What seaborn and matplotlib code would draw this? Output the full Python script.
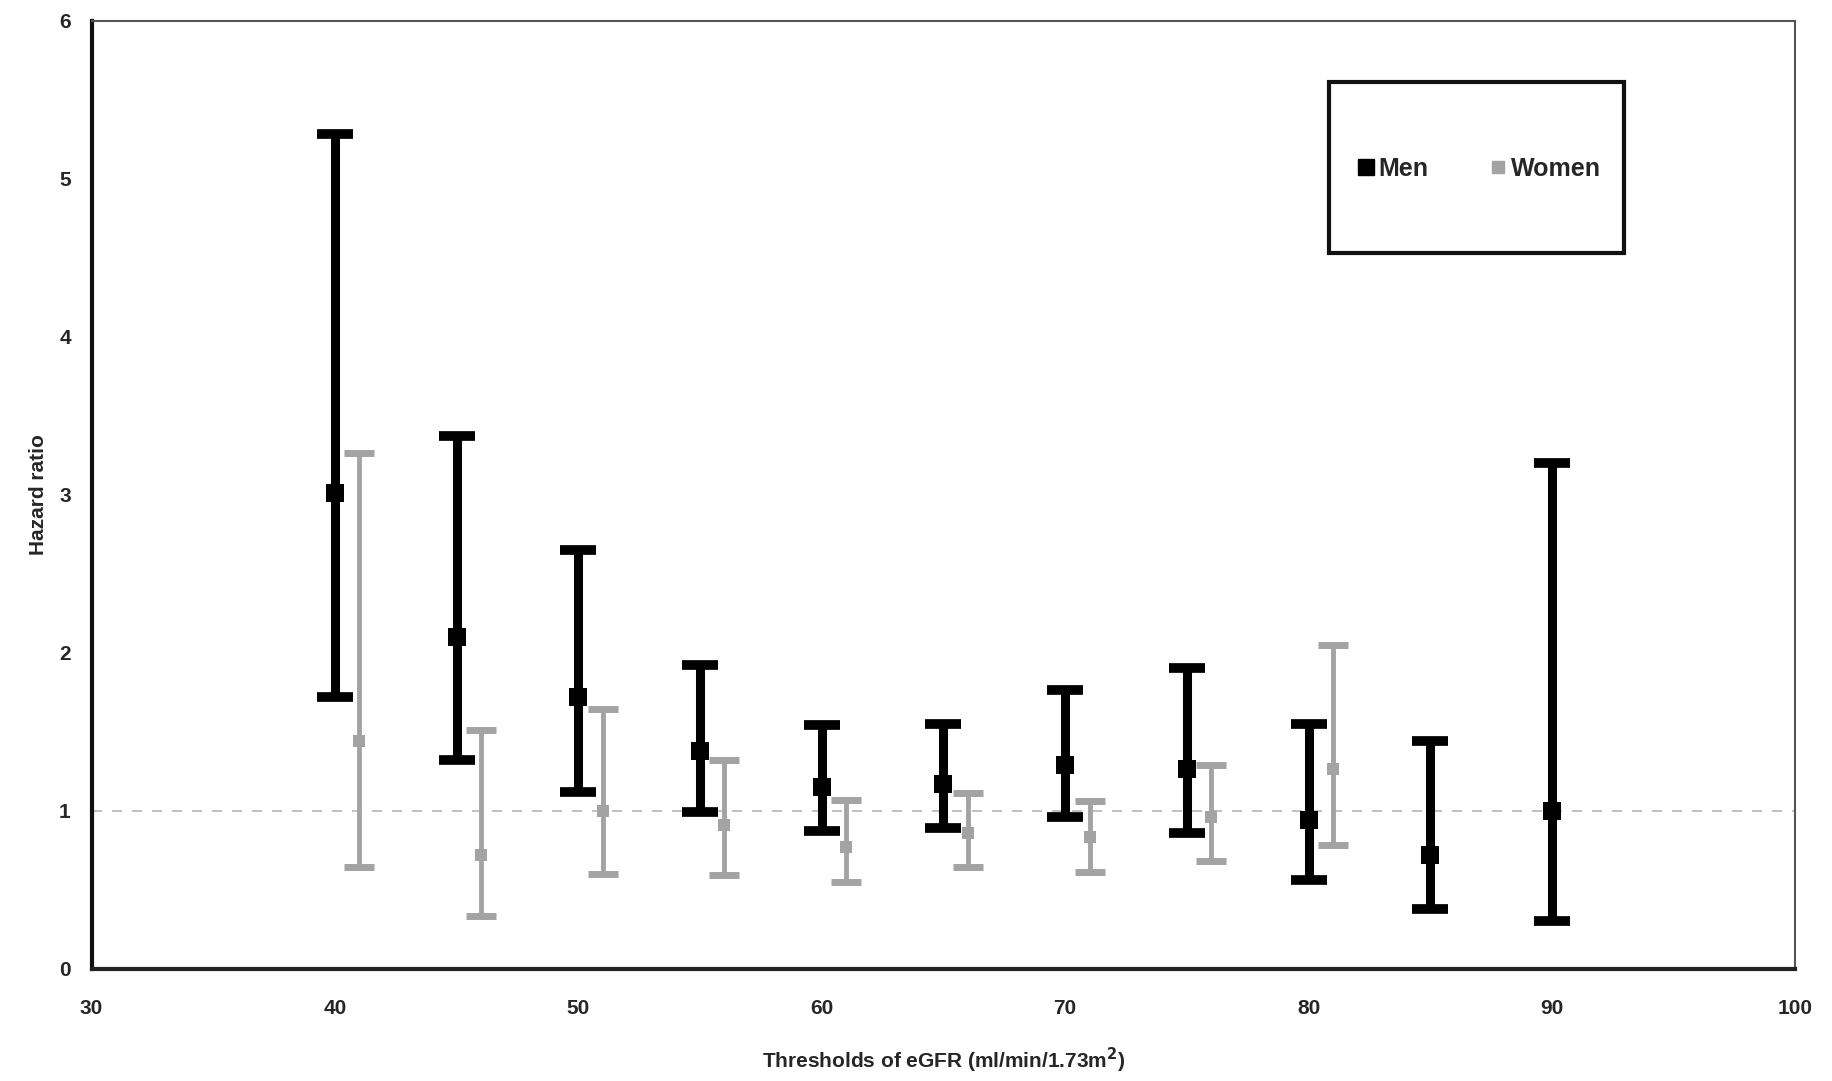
import matplotlib
matplotlib.use("Agg")
import matplotlib.pyplot as plt
import seaborn as sns
import pandas as pd
from matplotlib.lines import Line2D
from matplotlib.patches import Rectangle

# eGFR thresholds (ml/min/1.73m2)
men_x = [40, 45, 50, 55, 60, 65, 70, 75, 80, 85, 90]
men_hr = [3.01, 2.10, 1.72, 1.38, 1.15, 1.17, 1.29, 1.26, 0.94, 0.72, 1.00]
men_lo = [1.72, 1.32, 1.12, 0.99, 0.87, 0.89, 0.96, 0.86, 0.56, 0.38, 0.30]
men_hi = [5.28, 3.37, 2.65, 1.92, 1.54, 1.55, 1.76, 1.90, 1.55, 1.44, 3.20]

women_x = [41, 46, 51, 56, 61, 66, 71, 76, 81]
women_hr = [1.44, 0.72, 1.00, 0.91, 0.77, 0.86, 0.83, 0.96, 1.26]
women_lo = [0.64, 0.33, 0.60, 0.59, 0.55, 0.64, 0.61, 0.68, 0.78]
women_hi = [3.26, 1.51, 1.64, 1.32, 1.07, 1.11, 1.06, 1.29, 2.05]

x_ticks = [30, 40, 50, 60, 70, 80, 90, 100]
y_ticks = [0, 1, 2, 3, 4, 5, 6]

MEN_COLOR = "#000000"
WOMEN_COLOR = "#a3a3a3"

sns.set_style("white")
plt.rcParams["font.family"] = ["Liberation Sans", "DejaVu Sans"]
plt.rcParams["font.weight"] = "bold"

df = pd.concat([
    pd.DataFrame({"eGFR": men_x, "HR": men_hr, "lo": men_lo, "hi": men_hi, "Sex": "Men"}),
    pd.DataFrame({"eGFR": women_x, "HR": women_hr, "lo": women_lo, "hi": women_hi, "Sex": "Women"}),
], ignore_index=True)

fig = plt.figure(figsize=(18.32, 10.81), dpi=100)
ax = fig.add_axes([0.050, 0.104, 0.930, 0.877])

# reference line at HR = 1
ax.axhline(1.0, color="#b5b5b5", lw=1.2, ls=(0, (6, 6)), zorder=1)

styles = {
    "Men": dict(color=MEN_COLOR, lw=6.5, capsize=13, capthick=7, ms=13),
    "Women": dict(color=WOMEN_COLOR, lw=3.5, capsize=11, capthick=5, ms=9),
}
for sex, sub in df.groupby("Sex"):
    st = styles[sex]
    yerr = [sub["HR"] - sub["lo"], sub["hi"] - sub["HR"]]
    ax.errorbar(sub["eGFR"], sub["HR"], yerr=yerr, fmt="none",
                ecolor=st["color"], elinewidth=st["lw"], capsize=st["capsize"],
                capthick=st["capthick"], zorder=3 if sex == "Men" else 2)

sns.scatterplot(data=df[df["Sex"] == "Men"], x="eGFR", y="HR", marker="s",
                s=styles["Men"]["ms"] ** 2, color=MEN_COLOR, edgecolor=MEN_COLOR,
                linewidth=0, ax=ax, zorder=4, legend=False)
sns.scatterplot(data=df[df["Sex"] == "Women"], x="eGFR", y="HR", marker="s",
                s=styles["Women"]["ms"] ** 2, color=WOMEN_COLOR, edgecolor=WOMEN_COLOR,
                linewidth=0, ax=ax, zorder=4, legend=False)

ax.set_xlim(30, 100)
ax.set_ylim(0, 6)
ax.set_xticks(x_ticks)
ax.set_yticks(y_ticks)
ax.tick_params(axis="x", direction="in", length=6, width=1.5, labelsize=15, pad=22)
ax.tick_params(axis="y", direction="out", length=7, width=1.5, labelsize=15, pad=8)
for lab in ax.get_xticklabels() + ax.get_yticklabels():
    lab.set_fontweight("bold")

ax.spines["left"].set_linewidth(3)
ax.spines["bottom"].set_linewidth(3)
ax.spines["left"].set_color("#111111")
ax.spines["bottom"].set_color("#222222")
ax.spines["top"].set_linewidth(1.5)
ax.spines["right"].set_linewidth(1.5)
ax.spines["top"].set_color("#555555")
ax.spines["right"].set_color("#555555")

ax.set_xlabel("Thresholds of eGFR (ml/min/1.73m$^{\\mathbf{2}}$)", fontsize=15,
              fontweight="bold", labelpad=20)
ax.set_ylabel("Hazard ratio", fontsize=15, fontweight="bold", labelpad=8)

# legend box, drawn as its own frame with the entries centred inside
fig.add_artist(Rectangle((0.7255, 0.766), 0.161, 0.158, transform=fig.transFigure,
                         facecolor="white", edgecolor="#111111", linewidth=3,
                         zorder=5))
handles = [
    Line2D([], [], marker="s", color=MEN_COLOR, ls="none", ms=11),
    Line2D([], [], marker="s", color=WOMEN_COLOR, ls="none", ms=8),
]
leg = fig.legend(handles, ["Men", "Women"], ncol=2, loc="center",
                 bbox_to_anchor=(0.807, 0.844), frameon=False,
                 prop={"weight": "bold", "size": 18}, handletextpad=0.1,
                 columnspacing=2.4, handlelength=0.8, borderpad=0)
leg.set_zorder(6)

fig.savefig("out.png", dpi=100, facecolor="white")
